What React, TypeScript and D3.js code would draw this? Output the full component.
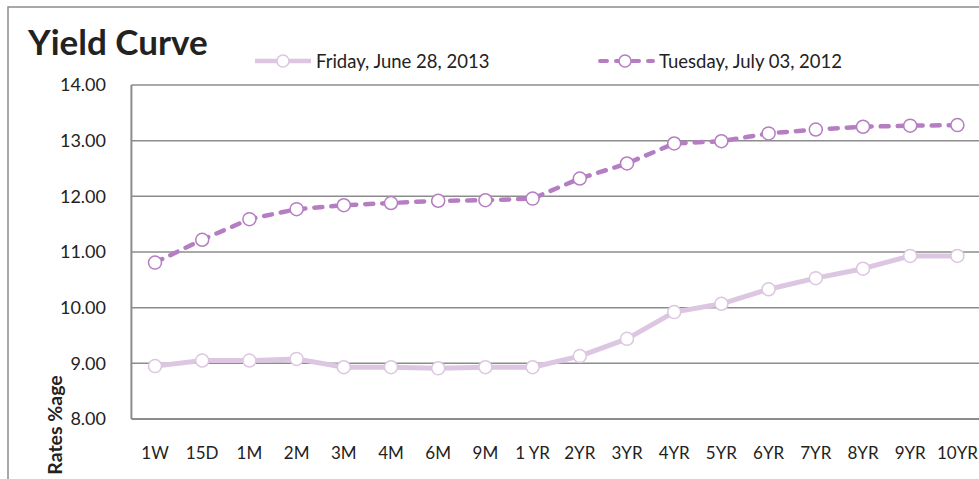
import React from "react";
import * as d3 from "d3";

const categories = ["1W", "15D", "1M", "2M", "3M", "4M", "6M", "9M", "1 YR", "2YR", "3YR", "4YR", "5YR", "6YR", "7YR", "8YR", "9YR", "10YR"];
const june2013 = [8.95, 9.05, 9.05, 9.08, 8.93, 8.93, 8.91, 8.93, 8.93, 9.13, 9.44, 9.92, 10.07, 10.33, 10.53, 10.7, 10.93, 10.93];
const july2012 = [10.81, 11.22, 11.59, 11.77, 11.84, 11.88, 11.92, 11.93, 11.96, 12.32, 12.59, 12.95, 12.99, 13.13, 13.2, 13.25, 13.27, 13.28];
const yTicks = [8, 9, 10, 11, 12, 13, 14];
const seriesNames = ["Friday, June 28, 2013", "Tuesday, July 03, 2012"];

const W = 979;
const H = 479;
const FONT = "Lato, 'Open Sans', sans-serif";
const LIGHT = "#dcc6e1";
const DARK = "#b67ec2";
const GRID = "#8c8c8c";

export default function App() {
  const left = 131.4;
  const right = 981;
  const top = 85;
  const bottom = 419;
  const x = d3.scaleBand<string>().domain(categories).range([left, right]).padding(0);
  const y = d3.scaleLinear().domain([8, 14]).range([bottom, top]);
  const cx = (i: number) => (x(categories[i]) as number) + x.bandwidth() / 2;
  const line = d3
    .line<number>()
    .x((_, i) => cx(i))
    .y((d) => y(d));

  return (
    <svg
      width={W}
      height={H}
      style={{ position: "absolute", left: 0, top: 0, background: "#fff" }}
      fontFamily={FONT}
    >
      <rect x={8} y={7} width={W + 20} height={H + 20} fill="#fff" stroke={GRID} strokeWidth={1.5} />
      <text x={28} y={55} fontSize={35} fontWeight={700} fill="#222">
        Yield Curve
      </text>

      {/* legend */}
      <g>
        <line x1={255} x2={311} y1={61} y2={61} stroke={LIGHT} strokeWidth={4.5} />
        <circle cx={283} cy={61} r={6} fill="#fff" stroke={LIGHT} strokeWidth={1.5} />
        <text x={316} y={67.5} fontSize={18.5} fill="#222">
          {seriesNames[0]}
        </text>
        <line x1={600} x2={653} y1={61} y2={61} stroke={DARK} strokeWidth={4} strokeDasharray="7 9" strokeLinecap="round" />
        <circle cx={625} cy={61} r={6} fill="#fff" stroke={DARK} strokeWidth={1.5} />
        <text x={659} y={67.5} fontSize={18.5} fill="#222">
          {seriesNames[1]}
        </text>
      </g>

      {/* gridlines */}
      {yTicks.map((t) => (
        <line key={t} x1={left} x2={right} y1={y(t)} y2={y(t)} stroke={GRID} strokeWidth={t === 8 ? 2 : 1.5} />
      ))}
      <line x1={left} x2={left} y1={top} y2={bottom} stroke={GRID} strokeWidth={2} />

      {/* y tick labels */}
      {yTicks.map((t) => (
        <text key={t} x={106} y={y(t)} dy="0.35em" textAnchor="end" fontSize={18} fill="#222">
          {t.toFixed(2)}
        </text>
      ))}

      {/* x tick labels */}
      {categories.map((c, i) => (
        <text key={c} x={cx(i)} y={459} textAnchor="middle" fontSize={17} fill="#222">
          {c}
        </text>
      ))}

      <text
        transform={`translate(62,425) rotate(-90)`}
        textAnchor="middle"
        fontSize={19.5}
        fontWeight={700}
        fill="#222"
      >
        Rates %age
      </text>

      {/* series */}
      <path d={line(june2013) || ""} fill="none" stroke={LIGHT} strokeWidth={5} strokeLinejoin="round" />
      {june2013.map((v, i) => (
        <circle key={i} cx={cx(i)} cy={y(v)} r={6.5} fill="#fff" stroke={LIGHT} strokeWidth={1.5} />
      ))}
      <path
        d={line(july2012) || ""}
        fill="none"
        stroke={DARK}
        strokeWidth={4.5}
        strokeDasharray="8 9"
        strokeLinecap="round"
        strokeLinejoin="round"
      />
      {july2012.map((v, i) => (
        <circle key={i} cx={cx(i)} cy={y(v)} r={6.5} fill="#fff" stroke={DARK} strokeWidth={1.5} />
      ))}
    </svg>
  );
}
